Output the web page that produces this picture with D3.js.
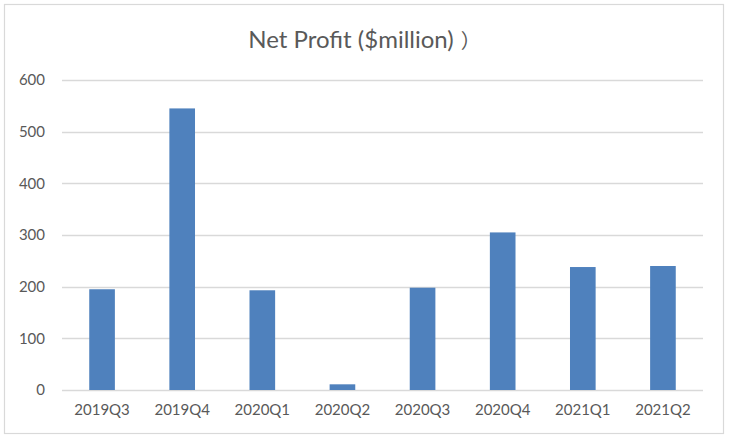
<!DOCTYPE html>
<html>
<head>
<meta charset="utf-8">
<script src="https://cdn.jsdelivr.net/npm/d3@7"></script>
<style>
  body { margin: 0; background: #fff; }
  text { font-family: Lato, "Noto Sans CJK SC", sans-serif; fill: #595959; }
</style>
</head>
<body>
<div id="chart"></div>
<script>
const quarters = ["2019Q3", "2019Q4", "2020Q1", "2020Q2", "2020Q3", "2020Q4", "2021Q1", "2021Q2"];
const netProfit = [195, 545, 193, 11, 198, 305, 238, 240];
const yTicks = [0, 100, 200, 300, 400, 500, 600];
const chartTitle = "Net Profit ($million)";
const titleTail = "）";

const W = 729, H = 441;
const margin = { left: 62, right: 26, top: 80, bottom: 51 };
const width = W - margin.left - margin.right;
const height = H - margin.top - margin.bottom;

const svg = d3.select("#chart")
    .append("svg")
    .attr("width", W)
    .attr("height", H);

// Outer frame
svg.append("rect")
    .attr("x", 4.5).attr("y", 4.5)
    .attr("width", 719).attr("height", 429)
    .attr("fill", "#fff")
    .attr("stroke", "#d9d9d9")
    .attr("stroke-width", 1.2);

// Title (the closing bracket is a full-width one in the original)
const title = svg.append("text")
    .attr("x", W / 2)
    .attr("y", 48)
    .attr("text-anchor", "middle")
    .style("font-size", "24px");
title.append("tspan").text(chartTitle);
title.append("tspan")
    .attr("dx", 7)
    .style("font-family", "'Noto Sans CJK SC'")
    .style("font-size", "20px")
    .text(titleTail);

const xScale = d3.scaleBand()
    .domain(quarters)
    .range([0, width])
    .paddingInner(0.68)
    .paddingOuter(0.34);

const yScale = d3.scaleLinear()
    .domain([0, 600])
    .range([height, 0]);

const g = svg.append("g")
    .attr("transform", "translate(" + margin.left + "," + margin.top + ")");

// Gridlines
g.append("g")
    .selectAll("line")
    .data(yTicks)
    .join("line")
    .attr("x1", 0).attr("x2", width)
    .attr("y1", d => Math.round(yScale(d)) + 0.5)
    .attr("y2", d => Math.round(yScale(d)) + 0.5)
    .attr("stroke", "#d9d9d9")
    .attr("stroke-width", 1.3);

// y-axis labels
const yAxis = g.append("g")
    .call(d3.axisLeft(yScale).tickValues(yTicks).tickSize(0).tickPadding(17));
yAxis.select(".domain").remove();
yAxis.selectAll("text").style("font-size", "15px").attr("fill", "#595959");

// Bars
g.append("g")
    .selectAll("rect")
    .data(netProfit)
    .join("rect")
    .attr("x", (d, i) => xScale(quarters[i]))
    .attr("y", d => yScale(d))
    .attr("width", xScale.bandwidth())
    .attr("height", d => height - yScale(d))
    .attr("fill", "#4f81bd");

// x-axis labels
const xAxis = g.append("g")
    .attr("transform", "translate(0," + height + ")")
    .call(d3.axisBottom(xScale).tickSize(0).tickPadding(14));
xAxis.select(".domain").remove();
xAxis.selectAll("text").style("font-size", "15px").attr("fill", "#595959");
</script>
</body>
</html>
